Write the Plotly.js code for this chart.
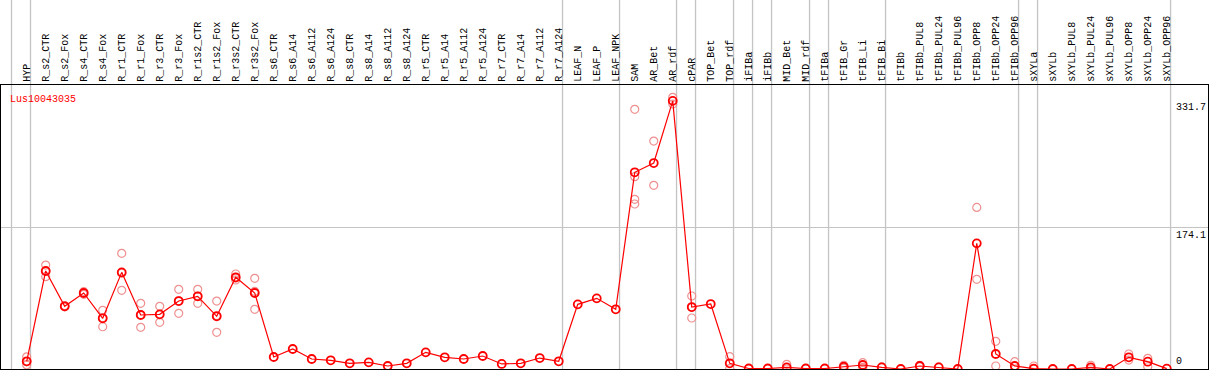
<!DOCTYPE html>
<html>
<head>
<meta charset="utf-8">
<script src="https://cdn.plot.ly/plotly-3.0.1.min.js"></script>
<style>html,body{margin:0;padding:0;background:#fff;}#chart{width:1209px;height:370px;}</style>
</head>
<body>
<div id="chart"></div>
<script>
const geneName = "Lus10043035";
const categories = ["HYP","R_s2_CTR","R_s2_Fox","R_s4_CTR","R_s4_Fox","R_r1_CTR","R_r1_Fox","R_r3_CTR","R_r3_Fox","R_r1s2_CTR","R_r1s2_Fox","R_r3s2_CTR","R_r3s2_Fox","R_s6_CTR","R_s6_A14","R_s6_A112","R_s6_A124","R_s8_CTR","R_s8_A14","R_s8_A112","R_s8_A124","R_r5_CTR","R_r5_A14","R_r5_A112","R_r5_A124","R_r7_CTR","R_r7_A14","R_r7_A112","R_r7_A124","LEAF_N","LEAF_P","LEAF_NPK","SAM","AR_Bet","AR_rdf","cPAR","TOP_Bet","TOP_rdf","iFIBa","iFIBb","MID_Bet","MID_rdf","tFIBa","tFIB_Gr","tFIB_Li","tFIB_Bi","tFIBb","tFIBb_PUL8","tFIBb_PUL24","tFIBb_PUL96","tFIBb_OPP8","tFIBb_OPP24","tFIBb_OPP96","sXYLa","sXYLb","sXYLb_PUL8","sXYLb_PUL24","sXYLb_PUL96","sXYLb_OPP8","sXYLb_OPP24","sXYLb_OPP96"];
const meanValues = [9.5,120.7,77.2,93.6,62.4,119,66.5,67.3,83.7,89.5,64.9,112.9,93.6,14.8,24.6,12.3,10.7,7,8.2,3.7,7,20.5,14.4,12.3,16,6.2,7,13.5,9.5,79.6,87,73.5,242.2,253.6,330.2,76.3,80,7,0.6,0.6,2,0.6,0.6,2.8,4.9,2,0,3.7,2,0,154.7,18.5,3.7,0.4,0,0,2,0,14.4,9,0.4];
const replicateValues = [[15,9,5],[128,113.7,120.5],[78,76.5],[95.2,92],[72.3,52,63],[142.4,96.9,118],[80.9,51.3,67],[77.2,57.5,67],[98.1,68.6,84],[98.1,80.9,89.5],[83.7,45.2,65.8],[117,109.6,112],[111.7,73.5,95.5],[],[],[],[],[],[],[],[],[],[],[],[],[],[],[],[],[],[],[],[319.7,236.8,208.9,203.2],[280.7,226.2],[334.5,326.3],[89.9,62.8,76],[],[15.2,0.5],[],[],[5.8,0],[],[],[4.6,1],[7.8,2],[2.5],[],[4.5,3],[2.5],[],[199,110.4],[34.1,3.7],[9,0],[3.7,0],[],[],[4.6,0],[],[18.5,11],[13.2,2.8],[]];
const separatorPositions = [-0.8,0.2,28.2,31.2,34.2,35.2,37.2,38.2,39.2,41.2,42.2,45.2,52.2,53.2,60.2];
const yTickValues = [0,174.1,331.7];
const yTickLabels = ["0","174.1","331.7"];

const repX = [], repY = [];
replicateValues.forEach((arr, i) => arr.forEach(v => { repX.push(categories[i]); repY.push(v); }));

const FONT = "Liberation Mono";
const traces = [
  {x: repX, y: repY, type: "scatter", mode: "markers", hoverinfo: "skip",
   marker: {symbol: "circle-open", size: 8, color: "#ef9090", line: {width: 1.2, color: "#ef9090"}}},
  {x: categories, y: meanValues, type: "scatter", mode: "lines+markers",
   line: {color: "#ff0000", width: 1.2},
   marker: {symbol: "circle-open", size: 8, color: "#ff0000", line: {width: 1.8, color: "#ff0000"}}}
];

const shapes = separatorPositions.map(p => ({type: "line", xref: "x", yref: "paper", x0: p, x1: p, y0: 0, y1: 1.31, layer: "below", line: {color: "#c4c4c4", width: 1.3}}));

const annotations = [
  {xref: "paper", yref: "paper", x: 0.006, y: 0.975, xanchor: "left", yanchor: "top", showarrow: false, text: geneName, font: {family: FONT, size: 10, color: "#ff0000"}},
  {xref: "paper", yref: "y", x: 0.972, y: yTickValues[2], xanchor: "left", yanchor: "top", showarrow: false, text: yTickLabels[2], font: {family: FONT, size: 10, color: "#000"}},
  {xref: "paper", yref: "y", x: 0.972, y: yTickValues[1], xanchor: "left", yanchor: "top", showarrow: false, text: yTickLabels[1], font: {family: FONT, size: 10, color: "#000"}},
  {xref: "paper", yref: "y", x: 0.972, y: yTickValues[0], xanchor: "left", yanchor: "bottom", showarrow: false, text: yTickLabels[0], font: {family: FONT, size: 10, color: "#000"}}
];

const layout = {
  width: 1209, height: 370,
  margin: {l: 1, r: 1, t: 85, b: 1, pad: 0},
  paper_bgcolor: "#fff", plot_bgcolor: "#fff",
  showlegend: false,
  font: {family: FONT, size: 10, color: "#000"},
  xaxis: {type: "category", categoryorder: "array", categoryarray: categories,
    range: [-1.353, 62.17], side: "top", tickangle: -90, showgrid: false, zeroline: false,
    showline: true, mirror: true, linecolor: "#000", linewidth: 1.2, ticks: "",
    tickfont: {family: FONT, size: 10, color: "#000"}, fixedrange: true},
  yaxis: {range: [0, 349.7], tickvals: [yTickValues[1]], showticklabels: false, showgrid: true,
    gridcolor: "#c4c4c4", gridwidth: 1.3, zeroline: false, showline: true, mirror: true,
    linecolor: "#000", linewidth: 1.2, ticks: "", fixedrange: true},
  shapes: shapes,
  annotations: annotations
};
Plotly.newPlot("chart", traces, layout, {displayModeBar: false, staticPlot: true});
</script>
</body>
</html>
